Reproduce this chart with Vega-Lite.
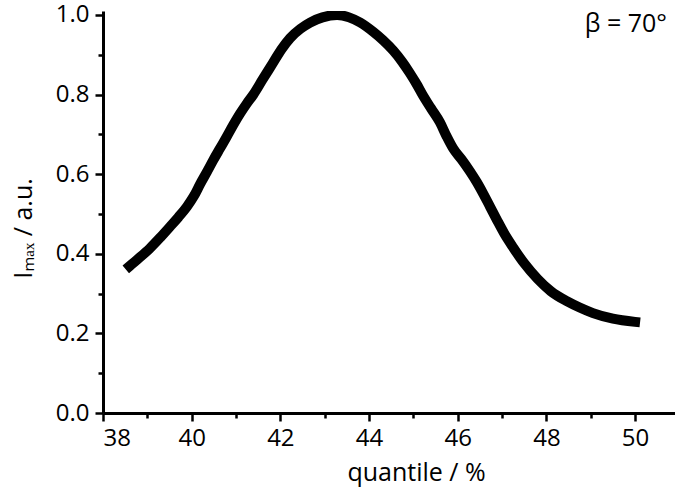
{
  "$schema": "https://vega.github.io/schema/vega-lite/v6.json",
  "autosize": "none",
  "width": 572,
  "height": 402,
  "padding": {"left": 103, "top": 11, "right": 0, "bottom": 78},
  "background": "white",
  "config": {
    "view": {"stroke": null},
    "font": "Open Sans",
    "axis": {
      "domainColor": "black",
      "domainWidth": 3,
      "tickColor": "black",
      "tickWidth": 2.5,
      "labelColor": "black",
      "labelFont": "Open Sans",
      "labelFontSize": 24,
      "titleFont": "Open Sans",
      "titleFontSize": 25,
      "titleFontWeight": "normal",
      "titleColor": "black",
      "grid": false
    }
  },
  "datasets": {
    "curve": [
      {"q": 38.6, "i": 0.369},
      {"q": 38.8, "i": 0.388},
      {"q": 39.06, "i": 0.414},
      {"q": 39.3, "i": 0.442},
      {"q": 39.51, "i": 0.468},
      {"q": 39.7, "i": 0.492},
      {"q": 39.89, "i": 0.518},
      {"q": 40.05, "i": 0.545},
      {"q": 40.19, "i": 0.575},
      {"q": 40.35, "i": 0.607},
      {"q": 40.49, "i": 0.636},
      {"q": 40.64, "i": 0.665},
      {"q": 40.79, "i": 0.694},
      {"q": 40.94, "i": 0.724},
      {"q": 41.09, "i": 0.752},
      {"q": 41.24, "i": 0.777},
      {"q": 41.39, "i": 0.800},
      {"q": 41.6, "i": 0.838},
      {"q": 41.83, "i": 0.879},
      {"q": 42.02, "i": 0.913},
      {"q": 42.22, "i": 0.942},
      {"q": 42.45, "i": 0.965},
      {"q": 42.67, "i": 0.981},
      {"q": 42.95, "i": 0.994},
      {"q": 43.28, "i": 1.0},
      {"q": 43.55, "i": 0.994},
      {"q": 43.8, "i": 0.981},
      {"q": 44.09, "i": 0.958},
      {"q": 44.32, "i": 0.936},
      {"q": 44.55, "i": 0.910},
      {"q": 44.75, "i": 0.882},
      {"q": 44.92, "i": 0.854},
      {"q": 45.08, "i": 0.825},
      {"q": 45.22, "i": 0.797},
      {"q": 45.4, "i": 0.765},
      {"q": 45.6, "i": 0.730},
      {"q": 45.75, "i": 0.695},
      {"q": 45.9, "i": 0.664},
      {"q": 46.08, "i": 0.638},
      {"q": 46.27, "i": 0.608},
      {"q": 46.43, "i": 0.580},
      {"q": 46.58, "i": 0.550},
      {"q": 46.73, "i": 0.518},
      {"q": 46.88, "i": 0.486},
      {"q": 47.05, "i": 0.451},
      {"q": 47.25, "i": 0.416},
      {"q": 47.5, "i": 0.376},
      {"q": 47.8, "i": 0.337},
      {"q": 48.1, "i": 0.306},
      {"q": 48.46, "i": 0.281},
      {"q": 48.75, "i": 0.265},
      {"q": 49.05, "i": 0.251},
      {"q": 49.5, "i": 0.237},
      {"q": 50.0, "i": 0.229}
    ],
    "note": [
      {"q": 50.72, "i": 0.977, "label": "β = 70°"}
    ]
  },
  "layer": [
    {
      "data": {"name": "curve"},
      "mark": {"type": "line", "color": "black", "strokeWidth": 10, "strokeCap": "square", "strokeJoin": "round", "interpolate": "monotone", "clip": true},
      "encoding": {
        "x": {
          "field": "q", "type": "quantitative",
          "scale": {"domain": [38, 50.9], "nice": false, "zero": false},
          "axis": {
            "title": "quantile / %",
            "values": [38, 39, 40, 41, 42, 43, 44, 45, 46, 47, 48, 49, 50],
            "labelExpr": "datum.value % 2 === 0 ? datum.label : ''",
            "tickSize": {"condition": {"test": "datum.value % 2 === 0", "value": 8}, "value": 5},
            "labelPadding": 5,
            "titleX": 313,
            "titleY": 67,
            "titleBaseline": "alphabetic"
          }
        },
        "y": {
          "field": "i", "type": "quantitative",
          "scale": {"domain": [0, 1.01], "nice": false},
          "axis": {
            "title": "Iₘₐₓ / a.u.",
            "values": [0, 0.1, 0.2, 0.3, 0.4, 0.5, 0.6, 0.7, 0.8, 0.9, 1.0],
            "format": ".1f",
            "labelExpr": "round(datum.value * 10) % 2 === 0 ? datum.label : ''",
            "tickSize": {"condition": {"test": "round(datum.value * 10) % 2 === 0", "value": 8}, "value": 5},
            "labelPadding": 6,
            "titleX": -72,
            "titleY": 217,
            "titleAngle": 270,
            "titleBaseline": "alphabetic"
          }
        }
      }
    },
    {
      "data": {"name": "note"},
      "mark": {"type": "text", "align": "right", "baseline": "middle", "fontSize": 25, "font": "Open Sans", "color": "black"},
      "encoding": {
        "x": {"field": "q", "type": "quantitative"},
        "y": {"field": "i", "type": "quantitative"},
        "text": {"field": "label"}
      }
    }
  ]
}
